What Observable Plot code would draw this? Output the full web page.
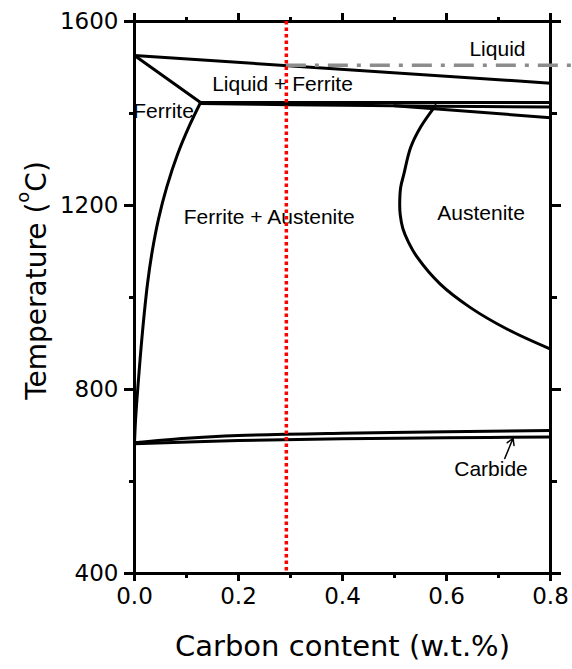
<!DOCTYPE html>
<html>
<head>
<meta charset="utf-8">
<script src="https://cdn.jsdelivr.net/npm/d3@7"></script>
<script src="https://cdn.jsdelivr.net/npm/@observablehq/plot@0.6"></script>
<style>
  body { margin: 0; background: #fff; }
</style>
</head>
<body>
<div id="chart"></div>
<script>
// Phase boundaries of the steel, as [carbon wt.%, temperature °C]
const liquidus = [[0, 1526], [0.8, 1466]];
const ferriteSolidus = [[0, 1526], [0.127, 1424]];
const peritecticUpper = [[0.127, 1424], [0.8, 1424]];
const peritecticLower = [[0.127, 1422], [0.3, 1419], [0.58, 1416], [0.8, 1414]];
const austeniteSolidus = [[0.5, 1417], [0.8, 1391]];
const ferriteBoundary = [
  [0.127, 1424], [0.105, 1372], [0.083, 1312], [0.062, 1240], [0.046, 1170],
  [0.034, 1100], [0.025, 1030], [0.015, 921], [0.0065, 805], [0.002, 733], [0, 684]
];
const austeniteBoundary = [
  [0.579, 1417], [0.55, 1370], [0.531, 1326], [0.518, 1268], [0.512, 1240],
  [0.51, 1205], [0.511, 1180], [0.516, 1150], [0.527, 1120], [0.544, 1087],
  [0.588, 1029], [0.646, 978], [0.717, 931], [0.8, 888]
];
const eutectoidUpper = [[0, 684], [0.1, 694], [0.2, 700], [0.4, 705], [0.6, 708], [0.8, 711]];
const eutectoidLower = [[0, 682], [0.2, 689], [0.4, 693], [0.6, 695], [0.8, 697]];

const boundaries = [
  liquidus, ferriteSolidus, peritecticUpper, peritecticLower, austeniteSolidus,
  ferriteBoundary, austeniteBoundary, eutectoidUpper, eutectoidLower
];

// Alloy composition and the liquid reference temperature
const alloyCarbon = 0.292;
const liquidTemp = 1505;
const liquidLineEnd = 0.85;

// Region names
const regionNames = ["Liquid", "Liquid + Ferrite", "Ferrite", "Ferrite + Austenite", "Austenite", "Carbide"];
const regionCarbon = [0.698, 0.2846, 0.0558, 0.2592, 0.6664, 0.6856];
const regionTemp = [1540, 1464, 1405, 1175, 1183, 627];

// Pointer from the "Carbide" name to its boundary
const carbidePointer = [{x1: 0.712, y1: 650, x2: 0.728, y2: 694}];

// Ticks
const xMajor = [0, 0.2, 0.4, 0.6, 0.8];
const xMinor = [0.1, 0.3, 0.5, 0.7];
const yMajor = [400, 800, 1200, 1600];
const yMinor = [600, 1000, 1400];

const xTitle = "Carbon content (w.t.%)";
const yTitle = "Temperature (°C)";

const black = "#000";
const px = d => d[0], py = d => d[1];

const chart = Plot.plot({
  width: 572,
  height: 669,
  marginTop: 21,
  marginRight: 22,
  marginBottom: 96,
  marginLeft: 134,
  style: {fontFamily: "DejaVu Sans", fontSize: "23px", background: "#fff", overflow: "visible", color: "#000"},
  x: {domain: [0, 0.8], label: null},
  y: {domain: [400, 1600], label: null},
  marks: [
    // axes
    Plot.axisX(xMajor, {anchor: "bottom", tickSize: 8, tickPadding: 6, strokeWidth: 3, fontSize: 23, tickFormat: d3.format(".1f"), label: null}),
    Plot.axisX(xMinor, {anchor: "bottom", tickSize: 5, strokeWidth: 3, tickFormat: () => "", label: null}),
    Plot.axisX(xMajor, {anchor: "top", tickSize: 9, strokeWidth: 3, tickFormat: () => "", label: null}),
    Plot.axisX(xMinor, {anchor: "top", tickSize: 5, strokeWidth: 3, tickFormat: () => "", label: null}),
    Plot.axisY(yMajor, {anchor: "left", tickSize: 10, tickPadding: 6, strokeWidth: 3, fontSize: 23, tickFormat: d3.format("d"), label: null}),
    Plot.axisY(yMinor, {anchor: "left", tickSize: 5, strokeWidth: 3, tickFormat: () => "", label: null}),
    Plot.axisY(yMajor, {anchor: "right", tickSize: 10, strokeWidth: 3, tickFormat: () => "", label: null}),
    Plot.axisY(yMinor, {anchor: "right", tickSize: 6, strokeWidth: 3, tickFormat: () => "", label: null}),
    Plot.frame({stroke: black, strokeWidth: 3}),

    // phase boundaries
    ...boundaries.map(b => Plot.line(b, {x: px, y: py, curve: "catmull-rom", stroke: black, strokeWidth: 3})),

    // liquid reference temperature (dash-dot)
    Plot.ruleY([liquidTemp], {x1: alloyCarbon, x2: liquidLineEnd, stroke: "#8c8c8c", strokeWidth: 3.5, strokeDasharray: "20,9,4,9"}),

    // region names
    Plot.text(regionNames, {
      x: (d, i) => regionCarbon[i],
      y: (d, i) => regionTemp[i],
      text: d => d,
      fontFamily: "Liberation Sans, Arial, sans-serif",
      fontSize: 21,
      fill: black
    }),
    Plot.arrow(carbidePointer, {x1: "x1", y1: "y1", x2: "x2", y2: "y2", stroke: black, strokeWidth: 1.5, headLength: 9}),

    // alloy composition (dotted)
    Plot.ruleX([alloyCarbon], {stroke: "#ff0000", strokeWidth: 3.5, strokeDasharray: "3.5,3"}),

    // axis titles
    Plot.text([xTitle], {frameAnchor: "bottom", lineAnchor: "bottom", textAnchor: "middle", dy: 82, fontSize: 29, text: d => d, fill: black}),
    Plot.text([yTitle], {frameAnchor: "left", lineAnchor: "bottom", textAnchor: "middle", rotate: -90, dx: -89, dy: -17, fontSize: 28, text: d => d, fill: black})
  ]
});

// Set the degree mark of the temperature title as a raised "o"
d3.select(chart).selectAll("text")
  .filter(function() { return this.textContent === yTitle; })
  .each(function() {
    const t = d3.select(this);
    const [before, after] = yTitle.split("°");
    t.text(null);
    t.append("tspan").text(before);
    t.append("tspan").attr("dy", -17).attr("font-size", 18).text("o");
    t.append("tspan").attr("dy", 17).text(after);
  });

document.getElementById("chart").appendChild(chart);
</script>
</body>
</html>
